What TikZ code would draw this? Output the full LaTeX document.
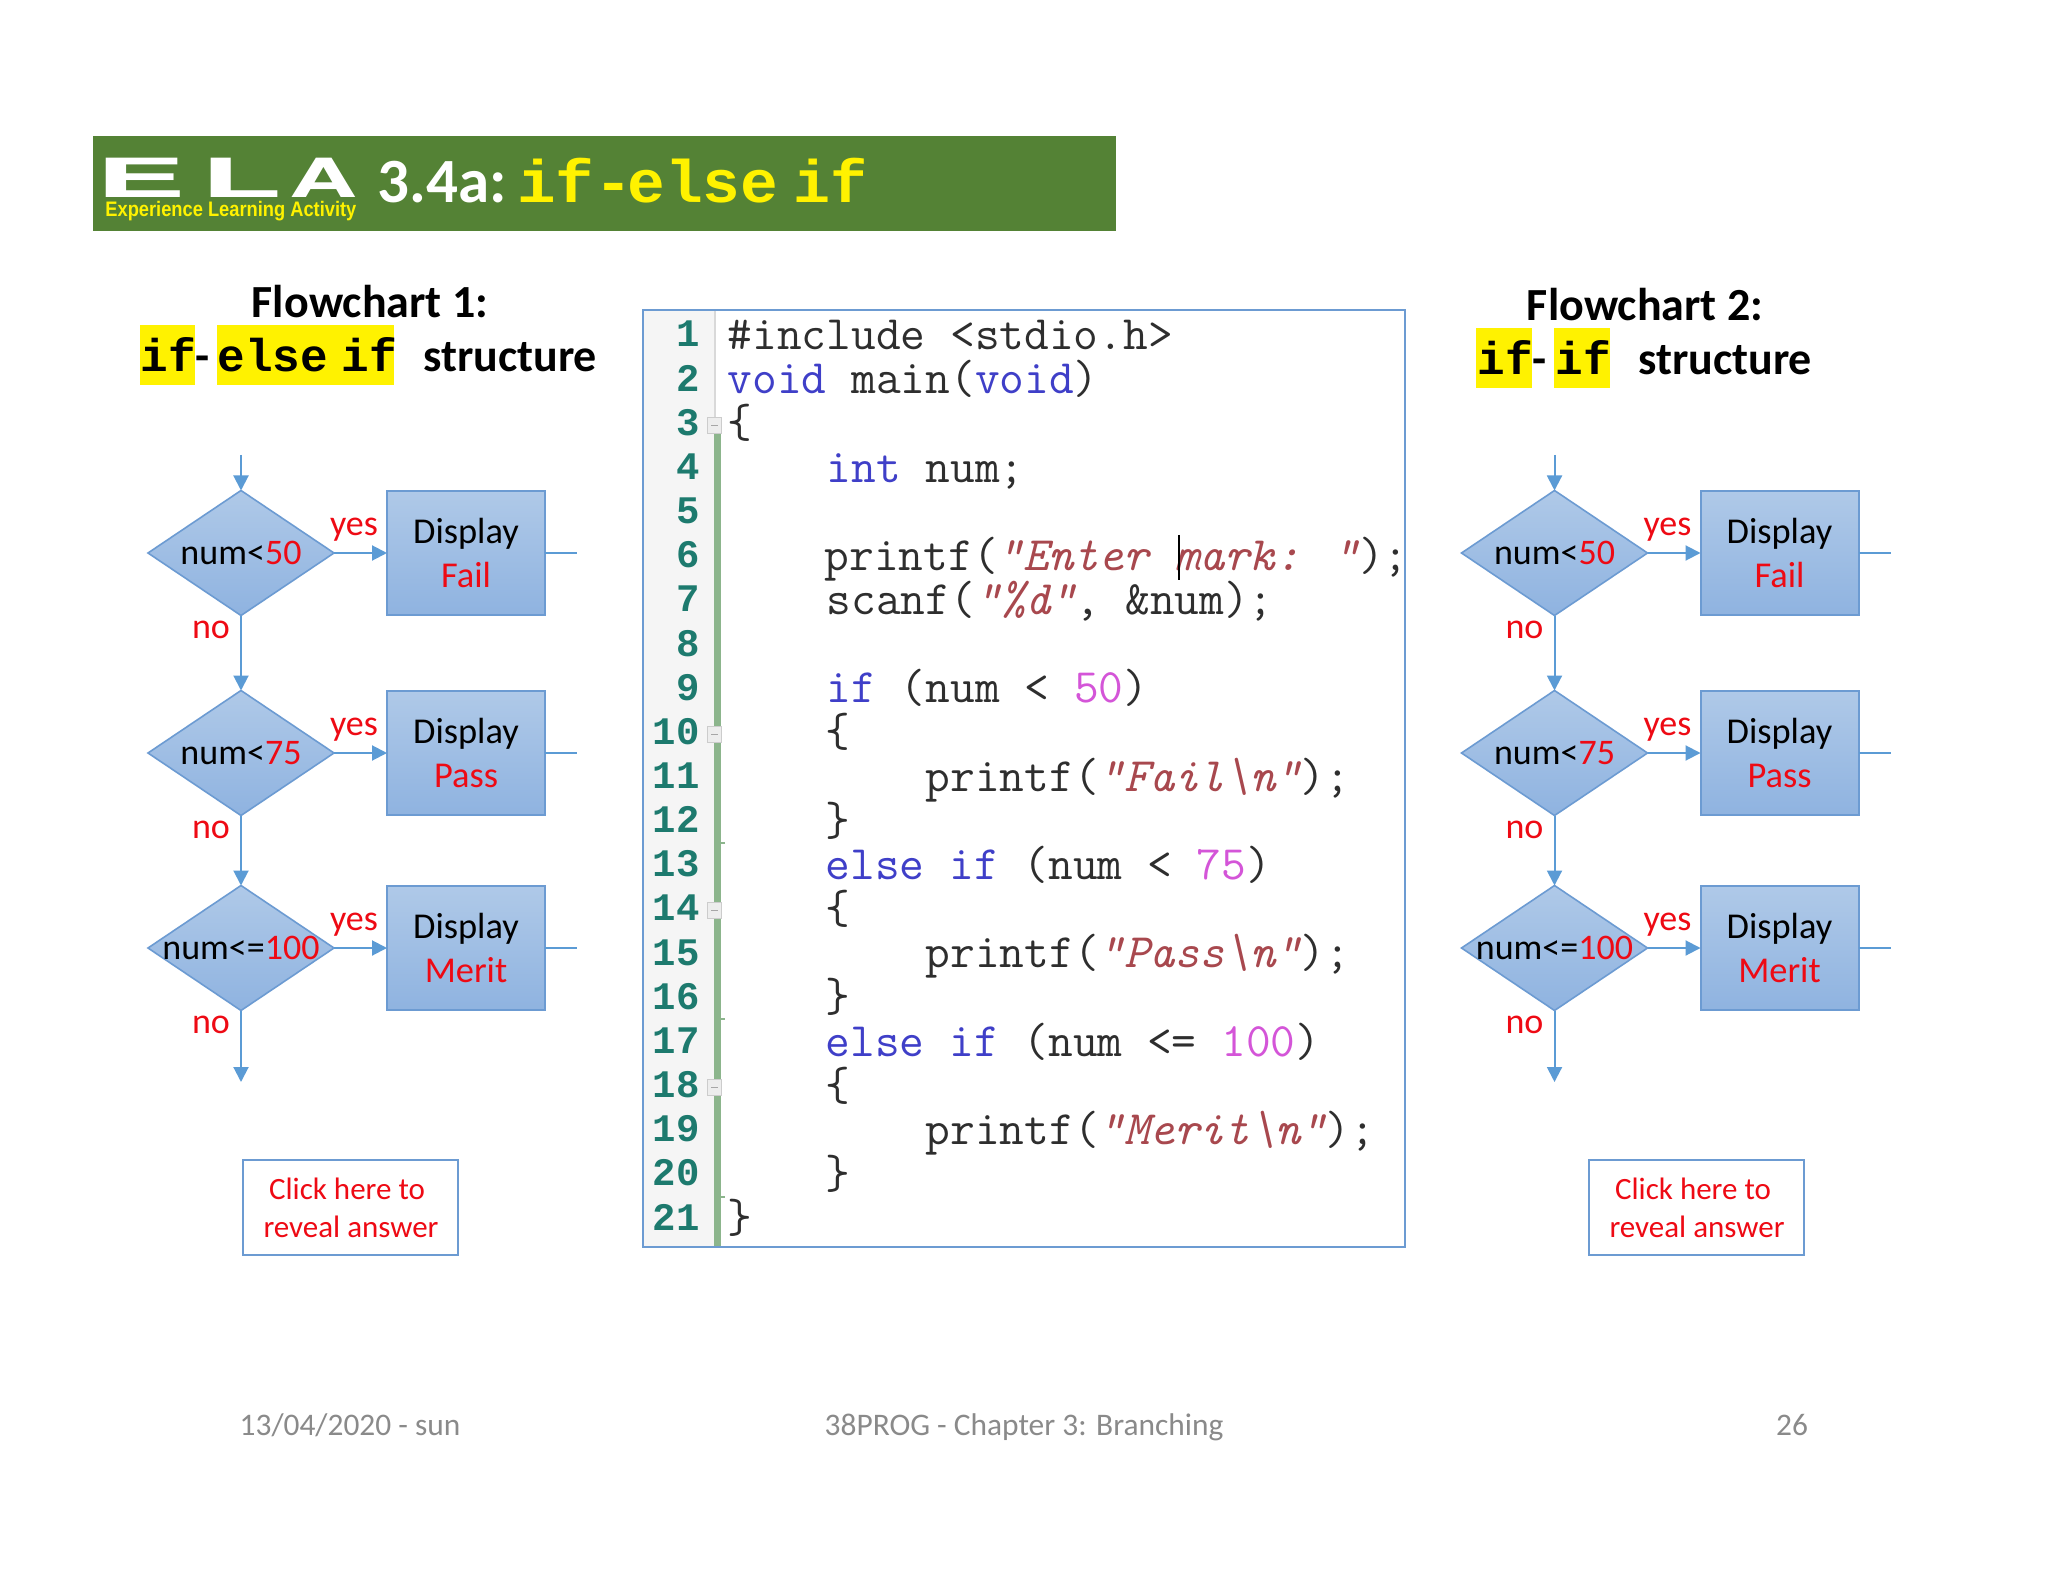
\documentclass[tikz,border=0pt]{standalone}
\usepackage{fontspec}
\setmainfont{Carlito}
\newfontfamily\cmono{Liberation Mono}
\newfontfamily\heros{TeX Gyre Heros}
\newfontfamily\lsans{Liberation Sans}
\usetikzlibrary{arrows.meta,shapes.geometric}
\definecolor{flow}{HTML}{5B9BD5}
\definecolor{edge}{HTML}{6C9BD2}
\definecolor{ftop}{HTML}{AFC9E8}
\definecolor{fbot}{HTML}{8FB3E0}
\definecolor{txtred}{HTML}{EE0A14}
\definecolor{banner}{HTML}{548235}
\definecolor{kw}{HTML}{3F3FC8}
\definecolor{strc}{HTML}{A8484E}
\definecolor{numc}{HTML}{D455D8}
\definecolor{codec}{HTML}{2E2E2E}
\definecolor{lnc}{HTML}{1D7A6E}
\definecolor{footc}{HTML}{8A8A8A}
\newcommand\fs[2]{\fontsize{#1pt}{#2pt}\selectfont}
\newcommand\rd[1]{\textcolor{txtred}{#1}}
\newcommand\kws[1]{\textcolor{kw}{#1}}
\newcommand\strs[1]{\textcolor{strc}{\itshape #1}}
\newcommand\nums[1]{\textcolor{numc}{#1}}
\newcommand\CodeAt[3]{\node[codeline] (code#1) at ({#2-2.6},{349.6+(#1-1)*44.15}) {#3};}
\newcommand\FlowChart[5]{%
 \begin{scope}[shift={(#2,0)}]
 \coordinate (#1in) at (241,455);
 \coordinate (#1out) at (241,1082);
 \node[fdiam] (#1d1) at (241,553) {\makebox[0pt]{num<\rd{50}}};
 \node[fdiam] (#1d2) at (241,753) {\makebox[0pt]{num<\rd{75}}};
 \node[fdiam] (#1d3) at (241,948) {\makebox[0pt]{num<=\rd{100}}};
 \node[fproc] (#1b1) at (466,553) {Display\\\rd{Fail}};
 \node[fproc] (#1b2) at (466,753) {Display\\\rd{Pass}};
 \node[fproc] (#1b3) at (466,948) {Display\\\rd{Merit}};
 \coordinate (#1x1) at (577,553);
 \coordinate (#1x2) at (577,753);
 \coordinate (#1x3) at (577,948);
 \node[lab] (#1y1) at (354,535.5) {yes};
 \node[lab] (#1y2) at (354,735.5) {yes};
 \node[lab] (#1y3) at (354,930.5) {yes};
 \node[lab] (#1n1) at (211,638) {no};
 \node[lab] (#1n2) at (211,838) {no};
 \node[lab] (#1n3) at (211,1033) {no};
 \draw[conn] (#1in) -- (#1d1.north);
 \draw[conn] (#1d1.south) -- (#1d2.north);
 \draw[conn] (#1d2.south) -- (#1d3.north);
 \draw[conn] (#1d3.south) -- (#1out);
 \draw[conn] (#1d1.east) -- (#1b1.west);
 \draw[conn] (#1d2.east) -- (#1b2.west);
 \draw[conn] (#1d3.east) -- (#1b3.west);
 \draw[stub] (#1b1.east) -- (#1x1);
 \draw[stub] (#1b2.east) -- (#1x2);
 \draw[stub] (#1b3.east) -- (#1x3);
 \end{scope}
 \node[clickbox] (#1click) at (#3,1207.5) {};
 \node[clicktxt] (#1c1) at (#4,1199) {Click here to};
 \node[clicktxt] (#1c2) at (#5,1237) {reveal answer};
}
\tikzset{
 fdiam/.style={diamond,draw=edge,line width=0.8pt,top color=ftop,bottom color=fbot,
   minimum width=93pt,minimum height=62.5pt,inner sep=0pt,outer sep=0pt,shape aspect=1.488,
   text=black,font=\fs{18}{22}},
 fproc/.style={rectangle,draw=edge,line width=1pt,top color=ftop,bottom color=fbot,
   minimum width=79pt,minimum height=62pt,inner sep=0pt,outer sep=0pt,align=center,
   text=black,font=\fs{18.2}{22}},
 lab/.style={anchor=base,inner sep=0pt,text=txtred,font=\fs{18}{22}},
 conn/.style={draw=flow,line width=1pt,-{Triangle[length=7.5pt,width=7.5pt]}},
 stub/.style={draw=flow,line width=0.9pt},
 clickbox/.style={rectangle,draw=edge,line width=1pt,fill=white,minimum width=107.5pt,minimum height=47.5pt,inner sep=0pt},
 clicktxt/.style={anchor=base,inner sep=0pt,text=txtred,font=\fs{15.5}{19}},
 ttl/.style={anchor=base,inner sep=0pt,text=black,font=\fs{23}{28}\bfseries},
 ttlw/.style={anchor=base west,inner sep=0pt,text=black,font=\fs{23}{28}\bfseries},
 mhl/.style={anchor=base west,inner sep=0pt,text=black,font=\cmono\fs{23}{28}\bfseries},
 bant/.style={anchor=base west,inner sep=0pt,text=yellow,font=\cmono\fs{30}{34}\bfseries},
 logo/.style={anchor=base west,inner sep=0pt,text=white,font=\heros\fs{27}{30}\bfseries},
 codeline/.style={anchor=base west,inner sep=0pt,text=codec,font=\ttfamily\fs{24}{28}},
 lnum/.style={anchor=base east,inner sep=0pt,text=lnc,font=\cmono\fs{19.5}{24}\bfseries},
 foldb/.style={rectangle,draw=black!20,fill=black!7,line width=0.5pt,minimum width=7pt,minimum height=8pt,inner sep=0pt},
 foot/.style={anchor=base,inner sep=0pt,text=footc,font=\fs{15.7}{20}},
}
\begin{document}
\begin{tikzpicture}[x=0.5pt,y=-0.5pt]
\useasboundingbox (0,0) rectangle (2048,1582);
\fill[white] (0,0) rectangle (2048,1582);
% banner
\fill[banner] (93,136) rectangle (1115.5,231);
\node[logo] (lE) at (95,198) {\resizebox{45.3pt}{\height}{E}};
\node[logo] (lL) at (200,198) {\resizebox{40.8pt}{\height}{L}};
\node[logo] (lA) at (289,198) {\resizebox{34pt}{\height}{A}};
\node[anchor=base west,inner sep=0pt,text=yellow,font=\lsans\fs{10.5}{12}\bfseries] (lsub) at (105,217)
  {\resizebox{125.5pt}{\height}{Experience Learning Activity}};
\node[anchor=base west,inner sep=0pt,text=white,font=\fs{31.5}{36}\bfseries] (bnum) at (377,203) {3.4a:};
\node[bant] (bif) at (517,203) {\resizebox{57.8pt}{\height}{if-}};
\node[bant] (belse) at (627,203) {\resizebox{75.5pt}{\height}{else}};
\node[bant] (bif2) at (793,203) {\resizebox{37pt}{\height}{if}};
% title 1
\fill[yellow] (139.5,325) rectangle (195,385);
\fill[yellow] (216.5,325) rectangle (394,385);
\node[ttl] (t1) at (370,317.6) {Flowchart 1:};
\node[mhl] (t1a) at (140,371.6) {if};
\node[ttlw] (t1b) at (195,371.6) {-};
\node[mhl] (t1c) at (217,371.6) {else};
\node[mhl] (t1d) at (341,371.6) {if};
\node[ttlw] (t1e) at (423,371.6) {structure};
% title 2
\fill[yellow] (1476,328) rectangle (1532,388);
\fill[yellow] (1554,328) rectangle (1610,388);
\node[ttl] (t2) at (1645,320.6) {Flowchart 2:};
\node[mhl] (t2a) at (1477,374.6) {if};
\node[ttlw] (t2b) at (1532,374.6) {-};
\node[mhl] (t2c) at (1555,374.6) {if};
\node[ttlw] (t2e) at (1638,374.6) {structure};
% flowcharts
\FlowChart{a}{0}{350.5}{347}{351}
\FlowChart{b}{1313.5}{1696.5}{1693}{1697}
% code panel
\fill[black!4] (644,311) rectangle (714,1246);
\draw[black!15,line width=1pt] (714.5,311) -- (714.5,420);
\fill[green!35!black!45!white] (714,433) rectangle (721,1246);
\foreach \t in {843,1019,1197} \draw[green!35!black!45!white,line width=0.6pt] (714,\t) -- (725,\t);
\foreach \n in {3,10,14,18} {
  \node[foldb] (fold\n) at (714.5,{347+(\n-1)*44.15-10}) {};
  \draw[black!35,line width=0.5pt] (711,{347+(\n-1)*44.15-10}) -- (718,{347+(\n-1)*44.15-10});
}
\foreach \n in {1,...,21} \node[lnum] (ln\n) at (700,{347+(\n-1)*44.15}) {\n};
\CodeAt{1}{730}{\#include <stdio.h>}
\CodeAt{2}{730}{\kws{void} main(\kws{void})}
\CodeAt{3}{729.5}{\{}
\CodeAt{4}{829}{\kws{int} num;}
\CodeAt{6}{827}{printf(\strs{"Enter mark: "});}
\CodeAt{7}{829}{scanf(\strs{"\%d"}, \&num);}
\CodeAt{9}{829}{\kws{if} (num < \nums{50})}
\CodeAt{10}{827.5}{\{}
\CodeAt{11}{928}{printf(\strs{"Fail\textbackslash n"});}
\CodeAt{12}{827.5}{\}}
\CodeAt{13}{828}{\kws{else if} (num < \nums{75})}
\CodeAt{14}{827.5}{\{}
\CodeAt{15}{928}{printf(\strs{"Pass\textbackslash n"});}
\CodeAt{16}{827.5}{\}}
\CodeAt{17}{828}{\kws{else if} (num <= \nums{100})}
\CodeAt{18}{827.5}{\{}
\CodeAt{19}{928}{printf(\strs{"Merit\textbackslash n"});}
\CodeAt{20}{827.5}{\}}
\CodeAt{21}{729.5}{\}}
\draw[black,line width=0.6pt] (1179,535) -- (1179,580);
\node[rectangle,draw=edge,line width=1pt,minimum width=380.75pt,minimum height=468.5pt,inner sep=0pt] (panel) at (1023.75,778.5) {};
% footer
\node[foot] (f1) at (350,1435) {13/04/2020 - sun};
\node[foot] (f2) at (1024,1435) {38PROG - Chapter 3: Branching};
\node[foot] (f3) at (1792,1435) {26};
\end{tikzpicture}
\end{document}
